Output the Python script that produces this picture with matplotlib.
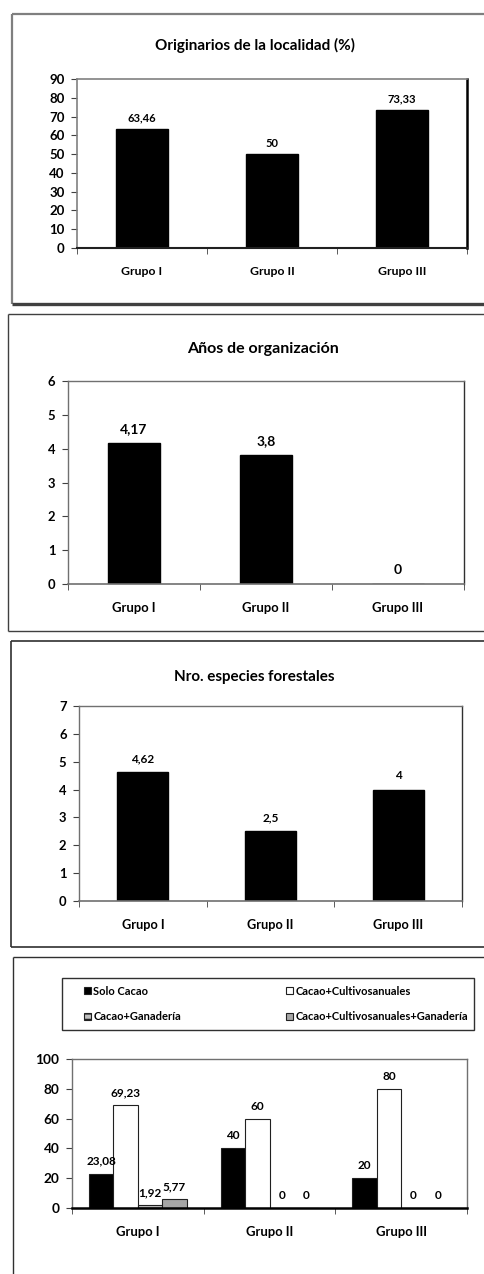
import matplotlib
matplotlib.use("Agg")
import matplotlib.pyplot as plt
from matplotlib.patches import Rectangle
from matplotlib.lines import Line2D
import numpy as np

plt.rcParams['font.family'] = ['Lato', 'DejaVu Sans']
plt.rcParams['font.weight'] = 'bold'

groups = ["Grupo I", "Grupo II", "Grupo III"]

title1 = "Originarios de la localidad (%)"
originarios = [63.46, 50, 73.33]
labels1 = ["63,46", "50", "73,33"]

title2 = "Años de organización"
anios = [4.17, 3.8, 0]
labels2 = ["4,17", "3,8", "0"]

title3 = "Nro. especies forestales"
especies = [4.62, 2.5, 4]
labels3 = ["4,62", "2,5", "4"]

series_names = ["Solo Cacao", "Cacao+Cultivosanuales", "Cacao+Ganadería",
                "Cacao+Cultivosanuales+Ganadería"]
solo_cacao = [23.08, 40, 20]
cacao_cultivos = [69.23, 60, 80]
cacao_ganaderia = [1.92, 0, 0]
cacao_cult_gan = [5.77, 0, 0]
labels_solo = ["23,08", "40", "20"]
labels_cult = ["69,23", "60", "80"]
labels_gan = ["1,92", "0", "0"]
labels_cg = ["5,77", "0", "0"]

W, H = 484, 1274
fig = plt.figure(figsize=(W / 100, H / 100), dpi=100)


def axes_px(left, right, top, bottom):
    return fig.add_axes([left / W, 1 - bottom / H, (right - left) / W, (bottom - top) / H])


def hline(x0, x1, y, color, lw):
    fig.add_artist(Line2D([x0 / W, x1 / W], [1 - y / H, 1 - y / H], color=color, lw=lw,
                          transform=fig.transFigure, solid_capstyle='butt'))


def vline(x, y0, y1, color, lw):
    fig.add_artist(Line2D([x / W, x / W], [1 - y0 / H, 1 - y1 / H], color=color, lw=lw,
                          transform=fig.transFigure, solid_capstyle='butt'))


# panel frames
hline(12, 490, 14, '#7f7f7f', 1.6)
vline(12, 14, 304, '#7f7f7f', 1.6)
hline(12, 490, 304, '#404040', 2.4)

hline(8, 490, 314, '#404040', 1.0)
vline(8, 314, 631, '#404040', 1.0)
hline(8, 490, 631, '#404040', 1.0)

hline(11, 490, 641, '#303030', 1.2)
vline(11, 641, 947, '#303030', 1.2)
hline(11, 490, 947, '#303030', 1.2)

hline(13, 490, 957, '#303030', 1.0)
vline(13, 957, 1280, '#303030', 1.0)


def style_axes(ax, ymax, step, fsx, fsy, spines):
    ax.set_xlim(-0.5, 2.5)
    ax.set_ylim(0, ymax)
    ax.set_yticks(np.arange(0, ymax + 0.001, step))
    ax.set_xticks(range(3))
    ax.set_xticklabels(groups, fontsize=fsx, fontweight='bold')
    ax.tick_params(axis='x', length=0, pad=13)
    ax.set_xticks([-0.5, 0.5, 1.5, 2.5], minor=True)
    ax.tick_params(axis='x', which='minor', length=4, direction='out', color='#404040')
    ax.tick_params(axis='y', length=4, direction='out', labelsize=fsy, pad=5, color='#404040')
    for lab in ax.get_yticklabels():
        lab.set_fontweight('bold')
    for side, (c, lw) in spines.items():
        ax.spines[side].set_color(c)
        ax.spines[side].set_linewidth(lw)


# Panel 1
ax1 = axes_px(77, 467, 79, 248)
b = ax1.bar(range(3), originarios, width=0.4, color='black', edgecolor='black')
ax1.bar_label(b, labels=labels1, padding=4, fontsize=8, fontweight='bold')
style_axes(ax1, 90, 10, 8.8, 9.5, {'top': ('#808080', 1.2), 'left': ('#808080', 1.2),
                                   'right': ('black', 1.8), 'bottom': ('#202020', 1.5)})
fig.text(255 / W, 1 - 45 / H, title1, ha='center', va='center', fontsize=11, fontweight='bold')

# Panel 2
ax2 = axes_px(68, 464, 381, 584)
b = ax2.bar(range(3), anios, width=0.4, color='black', edgecolor='black')
ax2.bar_label(b, labels=labels2, padding=6, fontsize=10, fontweight='bold')
style_axes(ax2, 6, 1, 9.4, 9.4, {'top': ('#707070', 1.0), 'left': ('#707070', 1.0),
                                 'right': ('#303030', 1.0), 'bottom': ('#707070', 1.2)})
fig.text(263 / W, 1 - 349 / H, title2, ha='center', va='center', fontsize=11.5, fontweight='bold')

# Panel 3
ax3 = axes_px(79, 462, 706, 901)
b = ax3.bar(range(3), especies, width=0.4, color='black', edgecolor='black')
ax3.bar_label(b, labels=labels3, padding=6, fontsize=8.5, fontweight='bold')
style_axes(ax3, 7, 1, 9.2, 9.4, {'top': ('#707070', 1.0), 'left': ('#707070', 1.0),
                                 'right': ('#303030', 1.0), 'bottom': ('#707070', 1.2)})
fig.text(254 / W, 1 - 677 / H, title3, ha='center', va='center', fontsize=10.9, fontweight='bold')

# Panel 4
ax4 = axes_px(72, 467, 1059, 1208)
x = np.arange(3)
bw = 0.185
series = [solo_cacao, cacao_cultivos, cacao_ganaderia, cacao_cult_gan]
slabels = [labels_solo, labels_cult, labels_gan, labels_cg]
faces = ['black', 'white', '#bfbfbf', '#a6a6a6']
hatches = [None, None, '---', None]
handles = []
for i, (vals, labs) in enumerate(zip(series, slabels)):
    bb = ax4.bar(x + (i - 1.5) * bw, vals, width=bw, color=faces[i], edgecolor='#202020',
                 linewidth=0.8, hatch=hatches[i], label=series_names[i])
    ax4.bar_label(bb, labels=labs, padding=5, fontsize=8.5, fontweight='bold')
    handles.append(bb)
style_axes(ax4, 100, 20, 9.4, 9.8, {'top': ('#707070', 1.0), 'left': ('#707070', 1.0),
                                    'right': ('#707070', 1.0), 'bottom': ('black', 1.8)})

# legend frame
fig.add_artist(Rectangle((62 / W, 1 - 1030 / H), (474 - 62) / W, (1030 - 978) / H,
                         transform=fig.transFigure, facecolor='none',
                         edgecolor='#303030', lw=1.0))
order = [0, 2, 1, 3]
leg = fig.legend([handles[k] for k in order], [series_names[k] for k in order],
                 ncol=2, mode='expand',
                 bbox_to_anchor=(84 / W, 1 - 1020 / H, (468 - 84) / W, (1020 - 988) / H),
                 loc='center', fontsize=8, handlelength=0.6, handleheight=0.6,
                 handletextpad=0.25, borderpad=0, labelspacing=1.3,
                 frameon=False, borderaxespad=0)
for t in leg.get_texts():
    t.set_fontweight('bold')

fig.savefig("out.png", dpi=100)
